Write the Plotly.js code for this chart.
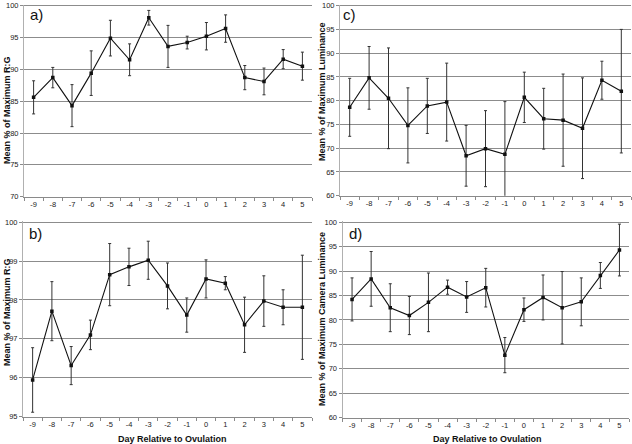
<!DOCTYPE html>
<html>
<head>
<meta charset="utf-8">
<script src="https://cdn.plot.ly/plotly-3.0.1.min.js"></script>
<style>
html,body{margin:0;padding:0;background:#fff;}
#chart{width:632px;height:444px;}
</style>
</head>
<body>
<div id="chart"></div>
<script>
const days = ['-9','-8','-7','-6','-5','-4','-3','-2','-1','0','1','2','3','4','5'];

const rgA    = [85.6, 88.7, 84.3, 89.4, 94.9, 91.5, 98.1, 93.6, 94.2, 95.2, 96.4, 88.7, 88.1, 91.6, 90.5];
const rgAErr = [2.6, 1.6, 3.3, 3.5, 2.8, 2.5, 1.15, 3.3, 1.0, 2.15, 2.15, 1.9, 2.1, 1.5, 2.2];

const rgB    = [95.94, 97.71, 96.31, 97.10, 98.65, 98.85, 99.02, 98.36, 97.61, 98.54, 98.43, 97.36, 97.97, 97.81, 97.81];
const rgBErr = [0.83, 0.76, 0.49, 0.38, 0.80, 0.48, 0.49, 0.59, 0.44, 0.49, 0.17, 0.71, 0.65, 0.45, 1.34];

const lumC    = [78.6, 84.8, 80.5, 74.8, 78.9, 79.7, 68.4, 69.9, 68.7, 80.7, 76.2, 75.9, 74.2, 84.3, 82.0];
const lumCErr = [6.1, 6.6, 10.6, 7.9, 5.8, 8.2, 6.4, 8.0, 11.1, 5.3, 6.4, 9.7, 10.6, 4.0, 13.0];

const camD    = [84.2, 88.4, 82.5, 80.9, 83.6, 86.7, 84.7, 86.6, 72.8, 82.1, 84.6, 82.5, 83.7, 89.1, 94.3];
const camDErr = [4.4, 5.6, 4.9, 3.9, 6.0, 1.45, 3.15, 3.95, 3.6, 2.4, 4.6, 7.4, 4.9, 2.65, 5.3];

const yTicksA = [70, 75, 80, 85, 90, 95, 100];
const yTicksB = [95, 96, 97, 98, 99, 100];
const yTicksCD = [60, 65, 70, 75, 80, 85, 90, 95, 100];

const yTitleA = 'Mean % of Maximum R:G';
const yTitleB = 'Mean % of Maximum R:G';
const yTitleC = 'Mean % of Maximum Luminance';
const yTitleD = 'Mean % of Maximum Camera Luminance';
const xTitle = 'Day Relative to Ovulation';
const panelLabels = ['a)', 'b)', 'c)', 'd)'];

function trace(y, err, xa, ya) {
  return {
    x: days, y: y, xaxis: xa, yaxis: ya, type: 'scatter', mode: 'lines+markers',
    line: {color: '#111', width: 1.1},
    marker: {color: '#111', size: 3.5, symbol: 'square'},
    error_y: {type: 'data', array: err, visible: true, color: '#333', thickness: 1, width: 1.5},
    showlegend: false, hoverinfo: 'skip'
  };
}

const data = [
  trace(rgA, rgAErr, 'x', 'y'),
  trace(rgB, rgBErr, 'x2', 'y2'),
  trace(lumC, lumCErr, 'x3', 'y3'),
  trace(camD, camDErr, 'x4', 'y4')
];

const tickFont = {family: 'Liberation Sans, Arial, sans-serif', size: 7.5, color: '#222'};
function xax(domain, anchor) {
  return {
    domain: domain, anchor: anchor, type: 'category', range: [-0.5, 14.5],
    showline: true, linecolor: '#8a8a8a', linewidth: 1,
    ticks: 'outside', tickson: 'boundaries', ticklen: 3, tickcolor: '#8a8a8a',
    showgrid: false, zeroline: false, tickfont: tickFont, fixedrange: true
  };
}
function yax(domain, anchor, ticks) {
  const lo = ticks[0], hi = ticks[ticks.length - 1];
  return {
    domain: domain, anchor: anchor, range: [lo, hi + (hi - lo) * 0.006],
    tickmode: 'array', tickvals: ticks, ticktext: ticks.map(String),
    ticklabeloverflow: 'allow',
    showline: true, linecolor: '#b0b0b0', linewidth: 1,
    ticks: 'outside', ticklen: 3, tickcolor: '#8a8a8a',
    showgrid: true, gridcolor: '#8c8c8c', gridwidth: 1,
    zeroline: false, tickfont: tickFont, fixedrange: true
  };
}

const W = 632, H = 444;
const fx = v => v / W, fy = v => 1 - v / H;

const titleFont = {family: 'Liberation Sans, Arial, sans-serif', size: 9, color: '#111'};
const labFont = {family: 'Liberation Sans, Arial, sans-serif', size: 15, color: '#111'};

function ann(text, x, y, font, angle) {
  return {text: text, x: fx(x), y: fy(y), xref: 'paper', yref: 'paper',
    showarrow: false, font: font, textangle: angle || 0, xanchor: 'center', yanchor: 'middle'};
}

const layout = {
  width: W, height: H,
  margin: {l: 0, r: 0, t: 0, b: 0},
  paper_bgcolor: '#fff', plot_bgcolor: '#fff',
  xaxis:  xax([fx(24), fx(312)], 'y'),
  yaxis:  yax([fy(196.7), fy(4.5)], 'x', yTicksA),
  xaxis2: xax([fx(23), fx(312)], 'y2'),
  yaxis2: yax([fy(416.5), fy(221)], 'x2', yTicksB),
  xaxis3: xax([fx(340), fx(631)], 'y3'),
  yaxis3: yax([fy(195.7), fy(4.5)], 'x3', yTicksCD),
  xaxis4: xax([fx(342.5), fx(629)], 'y4'),
  yaxis4: yax([fy(417.7), fy(221)], 'x4', yTicksCD),
  annotations: [
    ann('<b>' + yTitleA + '</b>', 7, 110, titleFont, -90),
    ann('<b>' + yTitleB + '</b>', 7, 312, titleFont, -90),
    ann('<b>' + yTitleC + '</b>', 322, 92, titleFont, -90),
    ann('<b>' + yTitleD + '</b>', 322, 319, titleFont, -90),
    ann('<b>' + xTitle + '</b>', 172, 439, titleFont),
    ann('<b>' + xTitle + '</b>', 487, 439, titleFont),
    ann(panelLabels[0], 36, 14, labFont),
    ann(panelLabels[1], 35, 233, labFont),
    ann(panelLabels[2], 350, 14, labFont),
    ann(panelLabels[3], 355, 233, labFont)
  ]
};

Plotly.newPlot('chart', data, layout, {staticPlot: true, displayModeBar: false});
</script>
</body>
</html>
